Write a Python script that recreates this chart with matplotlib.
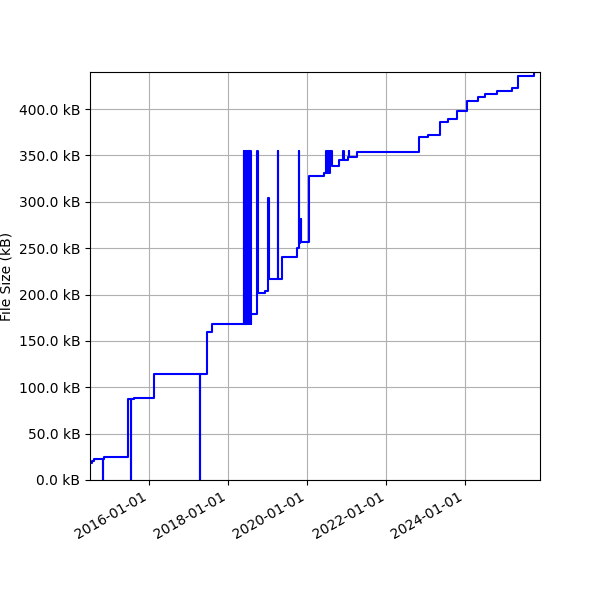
import numpy as np
import pandas as pd
import matplotlib
matplotlib.use("Agg")
import matplotlib.pyplot as plt
import matplotlib.dates as mdates
from matplotlib.ticker import FuncFormatter

# commit dates and file size in kB
dates = [
    "2014-07-01", "2014-07-16", "2014-08-06", "2014-10-27", "2014-10-29",
    "2014-11-07", "2015-06-21", "2015-07-13", "2015-07-15", "2015-08-15",
    "2016-02-16", "2017-04-14", "2017-04-16", "2017-06-21", "2017-08-03",
    "2018-05-20",
    # burst of edits
    "2018-05-26", "2018-05-30", "2018-06-03", "2018-06-07", "2018-06-11",
    "2018-06-15", "2018-06-19", "2018-06-23", "2018-06-27", "2018-07-01",
    "2018-07-05", "2018-07-09", "2018-07-13", "2018-07-17", "2018-07-21",
    "2018-07-25", "2018-07-27",
    "2018-09-26", "2018-09-28", "2018-12-09", "2019-01-06", "2019-01-08",
    "2019-04-06", "2019-04-08", "2019-05-10", "2019-09-30", "2019-10-17",
    "2019-10-19", "2019-10-27", "2019-10-29", "2019-11-02", "2019-11-04",
    "2020-01-20", "2020-06-07",
    # second burst
    "2020-06-23", "2020-06-27", "2020-07-01", "2020-07-05", "2020-07-09",
    "2020-07-13", "2020-07-17", "2020-07-21", "2020-07-25", "2020-07-29",
    "2020-08-02", "2020-08-17",
    "2020-10-24", "2020-11-30", "2020-12-02", "2021-01-10", "2021-01-20",
    "2021-01-22", "2021-04-03", "2022-10-27", "2023-01-24", "2023-05-12",
    "2023-07-28", "2023-10-19", "2024-01-21", "2024-04-26", "2024-07-05",
    "2024-10-19", "2025-03-06", "2025-05-01", "2025-09-28", "2025-11-23",
]
size_kb = [
    18.0, 20.0, 22.3, 0.0, 22.3,
    24.8, 87.3, 0.0, 87.3, 88.8,
    114.3, 0.0, 114.3, 159.6, 167.8,
    168.2,
    354.7, 168.2, 354.7, 168.2, 354.7,
    168.2, 354.7, 168.2, 354.7, 168.2,
    354.7, 168.2, 354.7, 168.2, 354.7,
    168.2, 178.6,
    354.7, 201.3, 204.1, 303.7, 216.4,
    354.7, 216.4, 240.1, 250.5, 354.7,
    255.2, 281.0, 256.3, 281.0, 256.3,
    328.1, 331.4,
    354.7, 331.4, 354.7, 331.4, 354.7,
    331.4, 354.7, 331.4, 354.7, 331.4,
    354.7, 338.5,
    345.0, 354.7, 345.0, 348.6, 354.7,
    348.6, 354.0, 370.1, 371.6, 386.0,
    389.2, 397.8, 409.0, 412.6, 416.2,
    419.4, 423.0, 435.6, 439.9, 439.9,
]

x = pd.to_datetime(dates)
y = np.array(size_kb)

fig, ax = plt.subplots(figsize=(6, 6), dpi=100)
ax.step(x, y, where="post", color="blue", linewidth=1.5)
ax.margins(0)
ax.set_ylim(bottom=0)

ax.xaxis.set_major_locator(mdates.YearLocator(2))
ax.xaxis.set_major_formatter(mdates.DateFormatter("%Y-%m-%d"))
ax.yaxis.set_major_locator(plt.MultipleLocator(50))
ax.yaxis.set_major_formatter(FuncFormatter(lambda v, p: f"{v:.1f} kB"))
ax.set_ylabel("File Size (kB)")
ax.grid(True, color="#b0b0b0")

fig.autofmt_xdate()
fig.subplots_adjust(left=0.15, right=0.9, top=0.88, bottom=0.2)
fig.savefig("out.png", dpi=100)
